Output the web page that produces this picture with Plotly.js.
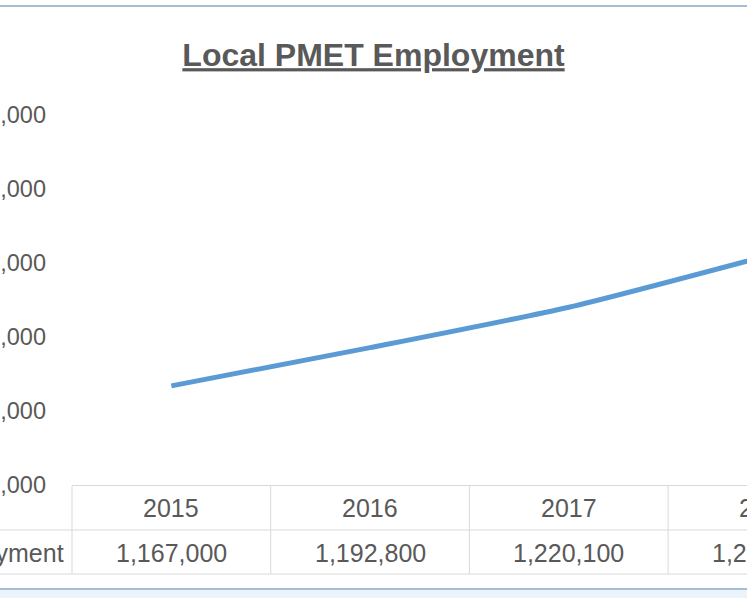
<!DOCTYPE html>
<html>
<head>
<meta charset="utf-8">
<script src="https://cdn.plot.ly/plotly-3.0.1.min.js"></script>
<style>
  html, body { margin: 0; padding: 0; background: #ffffff; overflow: hidden; width: 747px; height: 598px; }
  #chart { width: 950px; height: 598px; }
</style>
</head>
<body>
<div id="chart"></div>
<script>
// ---- data ----
var years = ['2015', '2016', '2017', '2018'];
var employment = [1167000, 1192800, 1220100, 1255000];
var seriesName = 'Local PMET Employment';
var yTicks = [1100000, 1150000, 1200000, 1250000, 1300000, 1350000];

// ---- layout helpers ----
var VIEW_W = 747;          // visible window width (chart is cropped on the right)
var W = 950, H = 598;
var mL = 72, mR = 0, mT = 115, mB = 113;
var plotH = H - mT - mB;
function py(pixelY) { return (H - mB - pixelY) / plotH; }   // pixel y -> paper y

var gray = '#595959';
var gridGray = '#d9d9d9';
var fontFam = '"Liberation Sans", Arial, sans-serif';

var trace = {
  type: 'scatter',
  mode: 'lines',
  x: years,
  y: employment,
  name: seriesName,
  line: { color: '#5b9bd5', width: 5, shape: 'spline', smoothing: 0.6 },
  hoverinfo: 'skip'
};

var shapes = [];
var annotations = [];

// chart frame (cropped Excel chart border)
shapes.push({ type: 'line', xref: 'paper', yref: 'paper', x0: -0.2, x1: 1.2, y0: py(6), y1: py(6),
  line: { color: '#a7bdd3', width: 2 } });
shapes.push({ type: 'rect', xref: 'paper', yref: 'paper', x0: -0.2, x1: 1.2, y0: py(590), y1: py(600),
  line: { width: 0 }, fillcolor: '#eaf4fa' });
shapes.push({ type: 'line', xref: 'paper', yref: 'paper', x0: -0.2, x1: 1.2, y0: py(589), y1: py(589),
  line: { color: '#a7bdd3', width: 2 } });

// data table grid
var yRow1Top = py(486), yRow2Top = py(530), yBottom = py(574);
shapes.push({ type: 'line', xref: 'paper', yref: 'paper', x0: -0.2, x1: 1.2, y0: yRow2Top, y1: yRow2Top,
  line: { color: gridGray, width: 1 } });
shapes.push({ type: 'line', xref: 'paper', yref: 'paper', x0: -0.2, x1: 1.2, y0: yBottom, y1: yBottom,
  line: { color: gridGray, width: 1 } });
shapes.push({ type: 'line', xref: 'paper', yref: 'paper', x0: 0, x1: 0, y0: yRow1Top, y1: yBottom,
  line: { color: gridGray, width: 1 } });
for (var i = 0; i < years.length; i++) {
  shapes.push({ type: 'line', xref: 'x', yref: 'paper', x0: i + 0.5, x1: i + 0.5, y0: yRow1Top, y1: yBottom,
    line: { color: gridGray, width: 1 } });
}

// data table texts
for (var j = 0; j < years.length; j++) {
  annotations.push({ xref: 'x', yref: 'paper', x: j, y: py(507.5), text: years[j], showarrow: false,
    xanchor: 'center', yanchor: 'middle', font: { family: fontFam, size: 25, color: gray } });
  annotations.push({ xref: 'x', yref: 'paper', x: j, y: py(552.5), text: employment[j].toLocaleString('en-US'),
    showarrow: false, xanchor: 'center', yanchor: 'middle', font: { family: fontFam, size: 25, color: gray } });
}
annotations.push({ xref: 'paper', yref: 'paper', x: 0, xshift: -6, y: py(552.5), text: seriesName,
  showarrow: false, xanchor: 'right', yanchor: 'middle', font: { family: fontFam, size: 25, color: gray } });

var bandW = 198.7;
var layout = {
  width: W, height: H,
  margin: { l: mL, r: mR, t: mT, b: mB, pad: 0 },
  paper_bgcolor: '#ffffff',
  plot_bgcolor: '#ffffff',
  showlegend: false,
  title: {
    text: '<b>Local PMET Employment</b>',
    font: { family: fontFam, size: 32, color: gray, lineposition: 'under' },
    x: (VIEW_W / 2) / W, xref: 'container', xanchor: 'center',
    y: 1 - 55 / H, yref: 'container', yanchor: 'middle'
  },
  xaxis: {
    type: 'category',
    range: [-0.5, -0.5 + (W - mL - mR) / bandW],
    showticklabels: false, ticks: '', showgrid: false, zeroline: false,
    showline: true, linecolor: gridGray, linewidth: 1, fixedrange: true
  },
  yaxis: {
    range: [1100000, 1350000],
    tickvals: yTicks,
    tickformat: ',d',
    ticks: '', showgrid: false, zeroline: false, showline: false,
    tickfont: { family: fontFam, size: 23.5, color: gray },
    ticklabelstandoff: 25,
    automargin: false, fixedrange: true
  },
  shapes: shapes,
  annotations: annotations
};

Plotly.newPlot('chart', [trace], layout, { staticPlot: true, displayModeBar: false });
</script>
</body>
</html>
